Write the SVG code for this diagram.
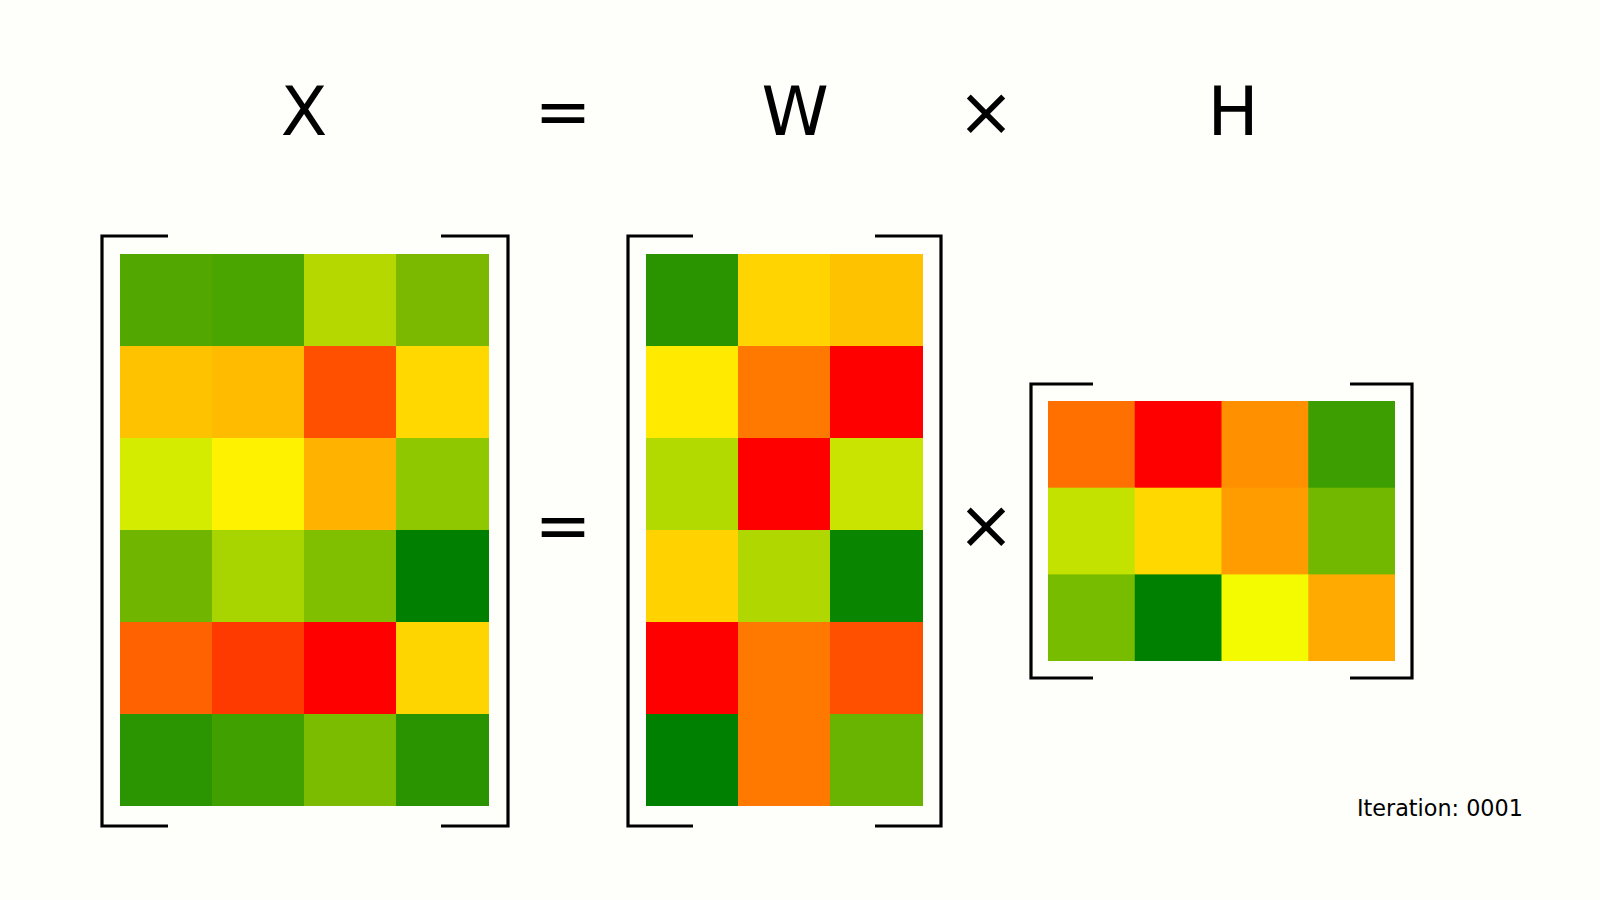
<svg xmlns="http://www.w3.org/2000/svg" width="1600" height="900" viewBox="0 0 1600 900">
<style>
.t{font-family:"DejaVu Sans","Liberation Sans",sans-serif;fill:#000;text-anchor:middle;font-size:68px}
.it{font-family:"DejaVu Sans","Liberation Sans",sans-serif;fill:#000;font-size:22.3px}
.br{fill:none;stroke:#000;stroke-width:3.2}
</style>
<rect width="1600" height="900" fill="#fefefb"/>
<g id="title">
<text class="t" x="304" y="135">X</text>
<text class="t" x="563" y="135">=</text>
<text class="t" x="795" y="135">W</text>
<text class="t" x="986" y="135">×</text>
<text class="t" x="1233" y="135">H</text>
</g>
<g id="matrixX">
<g transform="translate(120,254)">
<rect x="0" y="0" width="93" height="93" fill="#52a800"/>
<rect x="92" y="0" width="93" height="93" fill="#4aa500"/>
<rect x="184" y="0" width="93" height="93" fill="#b5d900"/>
<rect x="276" y="0" width="93" height="93" fill="#7ab900"/>
<rect x="0" y="92" width="93" height="93" fill="#ffc200"/>
<rect x="92" y="92" width="93" height="93" fill="#ffbb00"/>
<rect x="184" y="92" width="93" height="93" fill="#ff5000"/>
<rect x="276" y="92" width="93" height="93" fill="#ffd800"/>
<rect x="0" y="184" width="93" height="93" fill="#d4ec00"/>
<rect x="92" y="184" width="93" height="93" fill="#fff200"/>
<rect x="184" y="184" width="93" height="93" fill="#ffb300"/>
<rect x="276" y="184" width="93" height="93" fill="#90c800"/>
<rect x="0" y="276" width="93" height="93" fill="#70b500"/>
<rect x="92" y="276" width="93" height="93" fill="#a8d400"/>
<rect x="184" y="276" width="93" height="93" fill="#80bf00"/>
<rect x="276" y="276" width="93" height="93" fill="#007f00"/>
<rect x="0" y="368" width="93" height="93" fill="#ff6200"/>
<rect x="92" y="368" width="93" height="93" fill="#ff3a00"/>
<rect x="184" y="368" width="93" height="93" fill="#ff0000"/>
<rect x="276" y="368" width="93" height="93" fill="#ffd500"/>
<rect x="0" y="460" width="93" height="92" fill="#2a9500"/>
<rect x="92" y="460" width="93" height="92" fill="#40a000"/>
<rect x="184" y="460" width="93" height="92" fill="#7cbc00"/>
<rect x="276" y="460" width="93" height="92" fill="#2a9400"/>
</g>
<path class="br" d="M168,236 H102 V826 H168"/>
<path class="br" d="M441,236 H508 V826 H441"/>
</g>
<g id="eq">
<text class="t" x="563" y="549">=</text>
</g>
<g id="matrixW">
<g transform="translate(646,254)">
<rect x="0" y="0" width="93" height="93" fill="#2a9400"/>
<rect x="92" y="0" width="93" height="93" fill="#ffd400"/>
<rect x="184" y="0" width="93" height="93" fill="#ffc200"/>
<rect x="0" y="92" width="93" height="93" fill="#ffea00"/>
<rect x="92" y="92" width="93" height="93" fill="#ff7800"/>
<rect x="184" y="92" width="93" height="93" fill="#ff0000"/>
<rect x="0" y="184" width="93" height="93" fill="#b2d900"/>
<rect x="92" y="184" width="93" height="93" fill="#ff0000"/>
<rect x="184" y="184" width="93" height="93" fill="#c8e400"/>
<rect x="0" y="276" width="93" height="93" fill="#ffd200"/>
<rect x="92" y="276" width="93" height="93" fill="#b0d800"/>
<rect x="184" y="276" width="93" height="93" fill="#0a8500"/>
<rect x="0" y="368" width="93" height="93" fill="#ff0000"/>
<rect x="92" y="368" width="93" height="93" fill="#ff7800"/>
<rect x="184" y="368" width="93" height="93" fill="#ff5000"/>
<rect x="0" y="460" width="93" height="92" fill="#008000"/>
<rect x="92" y="460" width="93" height="92" fill="#ff7800"/>
<rect x="184" y="460" width="93" height="92" fill="#68b400"/>
</g>
<path class="br" d="M693,236 H628 V826 H693"/>
<path class="br" d="M875,236 H941 V826 H875"/>
</g>
<g id="times">
<text class="t" x="986" y="548">×</text>
</g>
<g id="matrixH">
<g transform="translate(1048,401)">
<rect x="0" y="0" width="87.5" height="87.5" fill="#ff7000"/>
<rect x="86.75" y="0" width="87.5" height="87.5" fill="#ff0000"/>
<rect x="173.5" y="0" width="87.5" height="87.5" fill="#ff9000"/>
<rect x="260.25" y="0" width="86.75" height="87.5" fill="#3c9e00"/>
<rect x="0" y="86.7" width="87.5" height="87.5" fill="#c4e200"/>
<rect x="86.75" y="86.7" width="87.5" height="87.5" fill="#ffd800"/>
<rect x="173.5" y="86.7" width="87.5" height="87.5" fill="#ff9c00"/>
<rect x="260.25" y="86.7" width="86.75" height="87.5" fill="#72b800"/>
<rect x="0" y="173.4" width="87.5" height="86.6" fill="#78bc00"/>
<rect x="86.75" y="173.4" width="87.5" height="86.6" fill="#008000"/>
<rect x="173.5" y="173.4" width="87.5" height="86.6" fill="#f4fa00"/>
<rect x="260.25" y="173.4" width="86.75" height="86.6" fill="#ffaa00"/>
</g>
<path class="br" d="M1093,384 H1031 V678 H1093"/>
<path class="br" d="M1350,384 H1412 V678 H1350"/>
</g>
<g id="iteration">
<text class="it" x="1357" y="816">Iteration: 0001</text>
</g>
</svg>
